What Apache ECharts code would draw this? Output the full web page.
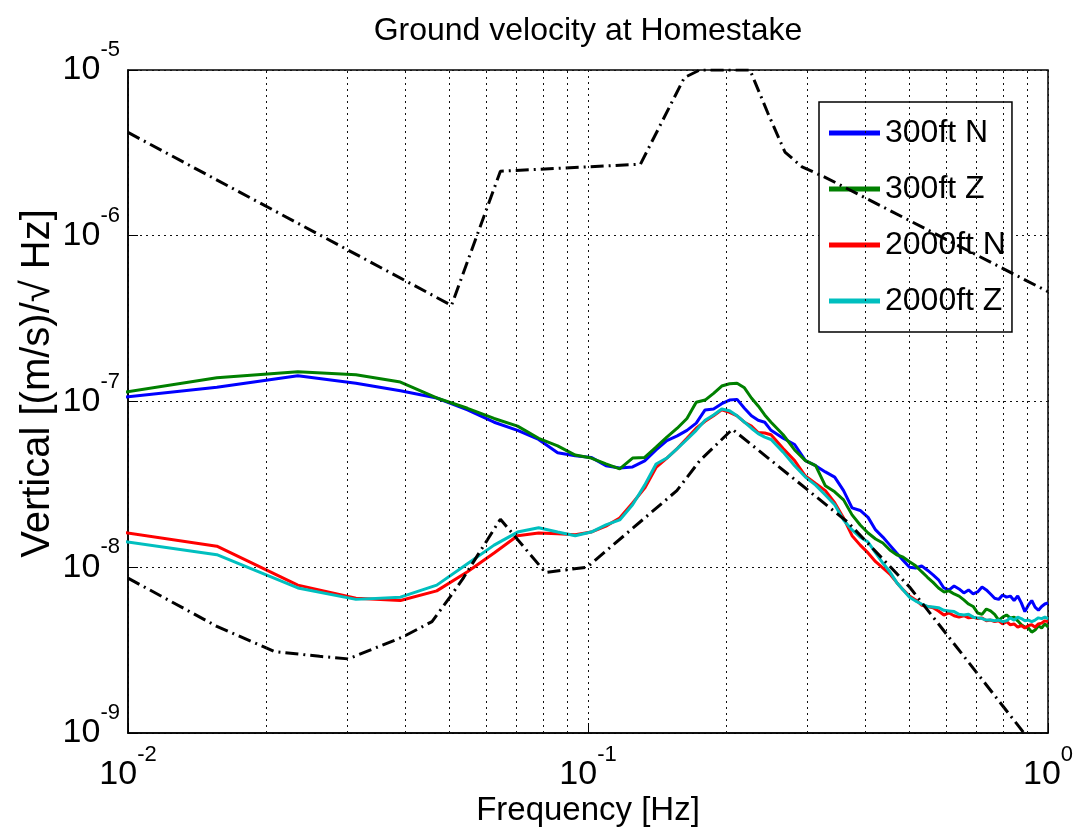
<!DOCTYPE html>
<html>
<head>
<meta charset="utf-8">
<script src="https://cdn.jsdelivr.net/npm/echarts@6/dist/echarts.min.js"></script>
<style>
  html, body { margin: 0; padding: 0; background: #fff; }
  #chart { width: 1084px; height: 828px; }
</style>
</head>
<body>
<div id="chart"></div>
<script>
// frequency bins [Hz]
const freqs = [
  0.0078, 0.0156, 0.0234, 0.0313, 0.0391, 0.0469, 0.0547, 0.0625, 0.0703, 0.0781,
  0.0859, 0.0938, 0.1016, 0.1094, 0.1172, 0.125, 0.1328, 0.1406, 0.1484, 0.1563,
  0.1641, 0.1719, 0.1797, 0.1875, 0.1953, 0.2031, 0.2109, 0.2188, 0.2266, 0.2344,
  0.2422, 0.25,
  0.2656, 0.2813, 0.2969, 0.3125, 0.3281, 0.3438, 0.3594, 0.375, 0.3906, 0.4063,
  0.4219, 0.4375, 0.4531, 0.4688, 0.4844, 0.5, 0.5156, 0.5313, 0.5469, 0.5625,
  0.5781, 0.5938, 0.6094, 0.625, 0.6406, 0.6563, 0.6719, 0.6875, 0.7031, 0.7188,
  0.7344, 0.75, 0.7656, 0.7813, 0.7969, 0.8125, 0.8281, 0.8438, 0.8594, 0.875,
  0.8906, 0.9063, 0.9219, 0.9375, 0.9531, 0.9688, 0.9844, 1.0
]

const n300 = [
  9.9e-8, 1.22e-7, 1.43e-7, 1.29e-7, 1.16e-7, 1.05e-7, 8.9e-8, 7.5e-8, 6.7e-8, 5.9e-8,
  4.9e-8, 4.7e-8, 4.6e-8, 4.1e-8, 3.97e-8, 4.03e-8, 4.38e-8, 5.1e-8, 5.8e-8, 6.2e-8,
  6.7e-8, 7.4e-8, 8.9e-8, 9.0e-8, 9.7e-8, 1.02e-7, 1.03e-7, 9.1e-8, 8.2e-8, 7.7e-8,
  7.5e-8, 6.7e-8,
  6.0e-8, 5.5e-8, 4.4e-8, 4.1e-8, 3.76e-8, 3.5e-8, 2.9e-8, 2.28e-8, 2.2e-8, 2.0e-8,
  1.68e-8, 1.52e-8, 1.36e-8, 1.22e-8, 1.1e-8, 1.0e-8, 9.9e-9, 1.02e-8, 9.6e-9, 9.0e-9,
  8.4e-9, 7.5e-9, 7.3e-9, 7.7e-9, 7.4e-9, 7.0e-9, 7.3e-9, 6.9e-9, 7.1e-9, 7.6e-9,
  7.3e-9, 6.9e-9, 6.5e-9, 6.4e-9, 6.8e-9, 6.6e-9, 6.7e-9, 6.3e-9, 6.7e-9, 6.1e-9,
  5.4e-9, 5.9e-9, 6.3e-9, 5.75e-9, 5.5e-9, 5.8e-9, 6.0e-9, 6.1e-9
]

const z300 = [
  1.03e-7, 1.39e-7, 1.51e-7, 1.45e-7, 1.31e-7, 1.05e-7, 9.1e-8, 7.9e-8, 7.1e-8, 6.0e-8,
  5.4e-8, 4.75e-8, 4.56e-8, 4.2e-8, 3.92e-8, 4.56e-8, 4.6e-8, 5.3e-8, 6.1e-8, 6.9e-8,
  7.9e-8, 9.9e-8, 1.02e-7, 1.12e-7, 1.24e-7, 1.28e-7, 1.29e-7, 1.21e-7, 1.05e-7, 9.4e-8,
  8.3e-8, 7.5e-8,
  6.3e-8, 5.1e-8, 4.4e-8, 4.1e-8, 3.1e-8, 2.85e-8, 2.55e-8, 2.07e-8, 1.8e-8, 1.61e-8,
  1.48e-8, 1.4e-8, 1.27e-8, 1.19e-8, 1.15e-8, 1.08e-8, 1.02e-8, 9.4e-9, 8.7e-9, 8.1e-9,
  7.5e-9, 7.1e-9, 7.2e-9, 6.9e-9, 6.7e-9, 6.35e-9, 6.0e-9, 5.8e-9, 5.3e-9, 5.2e-9,
  5.6e-9, 5.45e-9, 5.2e-9, 4.8e-9, 5.0e-9, 5.15e-9, 4.95e-9, 5.0e-9, 4.75e-9, 4.5e-9,
  4.36e-9, 4.3e-9, 4.06e-9, 4.18e-9, 4.43e-9, 4.3e-9, 4.55e-9, 4.36e-9
]

const n2000 = [
  1.78e-8, 1.34e-8, 7.8e-9, 6.5e-9, 6.3e-9, 7.2e-9, 9.4e-9, 1.22e-8, 1.55e-8, 1.61e-8,
  1.59e-8, 1.57e-8, 1.63e-8, 1.77e-8, 1.98e-8, 2.44e-8, 3.0e-8, 4.0e-8, 4.56e-8, 5.2e-8,
  6.0e-8, 6.9e-8, 7.6e-8, 8.2e-8, 8.9e-8, 8.6e-8, 8.2e-8, 7.5e-8, 7.1e-8, 6.5e-8,
  6.45e-8, 6.3e-8,
  5.2e-8, 4.4e-8, 3.55e-8, 3.2e-8, 2.9e-8, 2.45e-8, 1.98e-8, 1.55e-8, 1.36e-8, 1.22e-8,
  1.08e-8, 9.9e-9, 9.1e-9, 8.1e-9, 7.3e-9, 6.7e-9, 6.35e-9, 5.9e-9, 5.8e-9, 5.7e-9,
  5.45e-9, 5.15e-9, 5.3e-9, 5.1e-9, 5.0e-9, 5.1e-9, 4.95e-9, 5.0e-9, 4.9e-9, 4.95e-9,
  4.75e-9, 4.8e-9, 4.7e-9, 4.75e-9, 4.55e-9, 4.7e-9, 4.5e-9, 4.55e-9, 4.35e-9, 4.45e-9,
  4.3e-9, 4.45e-9, 4.5e-9, 4.35e-9, 4.55e-9, 4.6e-9, 4.75e-9, 4.7e-9
]

const z2000 = [
  1.57e-8, 1.19e-8, 7.5e-9, 6.4e-9, 6.6e-9, 7.8e-9, 1.05e-8, 1.36e-8, 1.63e-8, 1.73e-8,
  1.63e-8, 1.55e-8, 1.63e-8, 1.8e-8, 1.93e-8, 2.38e-8, 3.13e-8, 4.2e-8, 4.56e-8, 5.2e-8,
  5.9e-8, 6.7e-8, 7.7e-8, 8.3e-8, 9.0e-8, 8.8e-8, 8.2e-8, 7.5e-8, 6.9e-8, 6.4e-8,
  6.1e-8, 5.9e-8,
  4.95e-8, 4.1e-8, 3.5e-8, 3.13e-8, 2.73e-8, 2.38e-8, 1.93e-8, 1.68e-8, 1.52e-8, 1.42e-8,
  1.22e-8, 1.06e-8, 9.4e-9, 8.1e-9, 7.3e-9, 6.6e-9, 6.25e-9, 6.0e-9, 5.8e-9, 5.75e-9,
  5.7e-9, 5.5e-9, 5.45e-9, 5.4e-9, 5.2e-9, 5.15e-9, 5.2e-9, 5.0e-9, 4.95e-9, 4.9e-9,
  4.8e-9, 4.8e-9, 4.75e-9, 4.8e-9, 4.7e-9, 4.75e-9, 4.95e-9, 4.8e-9, 5.0e-9, 4.9e-9,
  4.75e-9, 4.8e-9, 4.7e-9, 4.8e-9, 4.95e-9, 4.9e-9, 5.0e-9, 4.9e-9
]

// upper and lower reference curves (dash-dot)
const highModelFreq = [0.01, 0.0505, 0.0645, 0.13, 0.162, 0.175, 0.225, 0.246, 0.268, 0.292, 0.327, 1.0]
const highModelVals = [4.2e-6, 3.8e-7, 2.45e-6, 2.7e-6, 9.0e-6, 1.0e-5, 1.0e-5, 5.5e-6, 3.2e-6, 2.6e-6, 2.26e-6, 4.6e-7]
const lowModelFreq = [0.01, 0.0156, 0.0208, 0.0261, 0.0301, 0.0396, 0.0458, 0.0501, 0.0537, 0.0645, 0.0808, 0.0995, 0.156, 0.175, 0.206, 0.367, 0.5, 0.87, 0.92]
const lowModelVals = [8.6e-9, 4.4e-9, 3.1e-9, 2.9e-9, 2.8e-9, 3.8e-9, 4.7e-9, 6.6e-9, 8.7e-9, 1.95e-8, 9.3e-9, 1.0e-8, 2.9e-8, 4.4e-8, 6.8e-8, 1.87e-8, 7.6e-9, 1.07e-9, 8.7e-10]

// minor grid positions
const minorX = [0.02, 0.03, 0.04, 0.05, 0.06, 0.07, 0.08, 0.09, 0.2, 0.3, 0.4, 0.5, 0.6, 0.7, 0.8, 0.9]
const minorY = [
  2e-9, 3e-9, 4e-9, 5e-9, 6e-9, 7e-9, 8e-9, 9e-9,
  2e-8, 3e-8, 4e-8, 5e-8, 6e-8, 7e-8, 8e-8, 9e-8,
  2e-7, 3e-7, 4e-7, 5e-7, 6e-7, 7e-7, 8e-7, 9e-7,
  2e-6, 3e-6, 4e-6, 5e-6, 6e-6, 7e-6, 8e-6, 9e-6
]

const FONT = "'Liberation Sans', Arial, sans-serif"
const gridDots = { color: '#111', width: 1, type: [2, 4] }
const dashDot = { color: '#000', width: 3, type: [13, 5, 2, 5] }

function pairs (xs, ys) {
  return xs.map((x, i) => [x, ys[i]])
}

function powLabel (v) {
  const e = Math.round(Math.log10(v))
  return '{b|10}{s|' + e + '}'
}

// y labels: block centred on the "10"
const powRichY = {
  b: { fontSize: 34, lineHeight: 34, fontFamily: FONT, color: '#000' },
  s: { fontSize: 22, lineHeight: 22, fontFamily: FONT, color: '#000', padding: [0, 0, 40, 0] }
}
// x labels: compact block, "10" pushed down, exponent on top
const powRichX = {
  b: { fontSize: 34, lineHeight: 34, fontFamily: FONT, color: '#000', padding: [14, 0, 0, 0] },
  s: { fontSize: 22, lineHeight: 22, fontFamily: FONT, color: '#000', padding: [0, 0, 26, 0] }
}

function dataLine (name, ys, color) {
  return {
    name: name,
    type: 'line',
    data: pairs(freqs, ys),
    showSymbol: false,
    symbol: 'none',
    clip: true,
    lineStyle: { color: color, width: 3 },
    itemStyle: { color: color },
    z: 3
  }
}

const chart = echarts.init(document.getElementById('chart'))
chart.setOption({
  animation: false,
  backgroundColor: '#fff',
  title: {
    text: 'Ground velocity at Homestake',
    left: 588,
    top: 15,
    padding: 0,
    textAlign: 'center',
    textStyle: { fontSize: 32, fontWeight: 'normal', fontFamily: FONT, color: '#000' }
  },
  grid: {
    left: 128, right: 36, top: 70, bottom: 95,
    outerBoundsMode: 'none',
    containLabel: false,
    show: true, borderColor: '#000', borderWidth: 1.5, backgroundColor: '#fff'
  },
  legend: {
    orient: 'vertical',
    left: 819,
    top: 102,
    padding: [13, 6, 13, 10],
    itemGap: 20,
    itemWidth: 51,
    itemHeight: 5,
    icon: 'rect',
    backgroundColor: '#fff',
    borderColor: '#000',
    borderWidth: 1.5,
    borderRadius: 0,
    textStyle: { fontSize: 32, lineHeight: 36, fontFamily: FONT, color: '#000' },
    data: ['300ft N', '300ft Z', '2000ft N', '2000ft Z']
  },
  xAxis: {
    type: 'log',
    logBase: 10,
    min: 0.01,
    max: 1,
    name: 'Frequency [Hz]',
    nameLocation: 'middle',
    nameGap: 61,
    nameMoveOverlap: false,
    nameTextStyle: { fontSize: 33, fontFamily: FONT, color: '#000' },
    axisLine: { lineStyle: { color: '#000', width: 1.5 } },
    axisTick: { inside: true, length: 10, lineStyle: { color: '#000' } },
    axisLabel: { formatter: powLabel, rich: powRichX, margin: 18 },
    splitLine: { show: true, lineStyle: gridDots }
  },
  yAxis: {
    type: 'log',
    logBase: 10,
    min: 1e-9,
    max: 1e-5,
    name: 'Vertical [(m/s)/\u221A Hz]',
    nameLocation: 'middle',
    nameGap: 70,
    nameMoveOverlap: false,
    nameTextStyle: { fontSize: 40, fontFamily: FONT, color: '#000', padding: [0, 0, 0, 36] },
    axisLine: { lineStyle: { color: '#000', width: 1.5 } },
    axisTick: { inside: true, length: 10, lineStyle: { color: '#000' } },
    axisLabel: { formatter: powLabel, rich: powRichY, margin: 8 },
    splitLine: { show: true, lineStyle: gridDots }
  },
  series: [
    {
      name: 'grid',
      type: 'line',
      data: [],
      silent: true,
      z: 1,
      markLine: {
        silent: true,
        symbol: ['none', 'none'],
        label: { show: false },
        lineStyle: gridDots,
        animation: false,
        data: minorX.map(v => ({ xAxis: v })).concat(minorY.map(v => ({ yAxis: v })))
      }
    },
    dataLine('300ft N', n300, '#0000ff'),
    dataLine('300ft Z', z300, '#008000'),
    dataLine('2000ft N', n2000, '#ff0000'),
    dataLine('2000ft Z', z2000, '#00bfbf'),
    {
      name: 'upper model',
      type: 'line',
      data: pairs(highModelFreq, highModelVals),
      showSymbol: false,
      symbol: 'none',
      clip: true,
      lineStyle: dashDot,
      z: 4
    },
    {
      name: 'lower model',
      type: 'line',
      data: pairs(lowModelFreq, lowModelVals),
      showSymbol: false,
      symbol: 'none',
      clip: true,
      lineStyle: dashDot,
      z: 4
    }
  ]
})
</script>
</body>
</html>
